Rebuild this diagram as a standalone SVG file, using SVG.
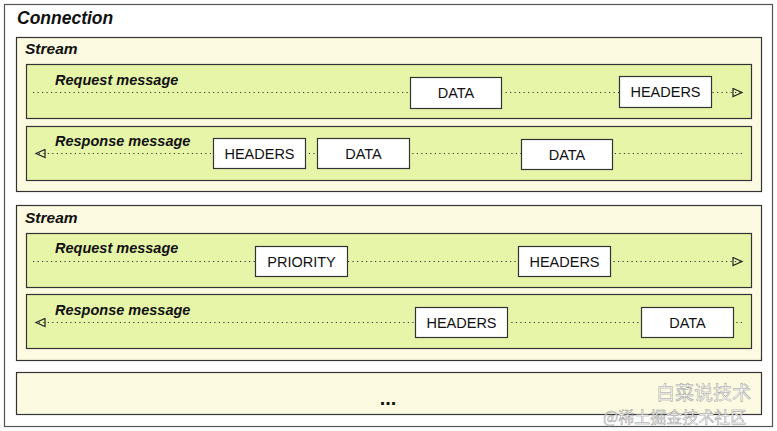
<svg xmlns="http://www.w3.org/2000/svg" width="777" height="431" viewBox="0 0 777 431">
<style>
.conn{fill:#ffffff;stroke:#555;stroke-width:1.2}
.stream{fill:#fcfae0;stroke:#333;stroke-width:1.2}
.msg{fill:#e6f5a8;stroke:#333;stroke-width:1.2}
.frame{fill:#ffffff;stroke:#333;stroke-width:1.2}
.t1{font-family:"Liberation Sans",Arial,sans-serif;font-weight:bold;font-style:italic;font-size:17.5px;fill:#111}
.t2{font-family:"Liberation Sans",Arial,sans-serif;font-weight:bold;font-style:italic;font-size:15.5px;fill:#111}
.t3{font-family:"Liberation Sans",Arial,sans-serif;font-weight:bold;font-style:italic;font-size:14.5px;fill:#111}
.fl{font-family:"Liberation Sans",Arial,sans-serif;font-size:14.5px;fill:#111;text-anchor:middle}
.dot{stroke:#333;stroke-width:1.2;stroke-dasharray:1.2 3.3;fill:none}
.wm{font-family:"Noto Sans CJK SC",sans-serif;fill:#ffffff;stroke:#9a9a9a;stroke-width:0.5}
</style>
<defs>
<marker id="ah" markerWidth="12" markerHeight="10" refX="10" refY="5" orient="auto" markerUnits="userSpaceOnUse">
<path d="M1,1 L10,5 L1,9 Z" fill="none" stroke="#222" stroke-width="1.2"/>
</marker>
</defs>
<g id="connection">
<rect class="conn" x="4.5" y="4.5" width="768" height="422"/>
<text class="t1" x="17" y="24">Connection</text>
</g>
<g id="stream1">
<rect class="stream" x="16.5" y="37.5" width="745" height="154"/>
<text class="t2" x="25" y="54">Stream</text>
</g>
<g id="req1">
<rect class="msg" x="26.5" y="64.5" width="725" height="54"/>
<text class="t3" x="55" y="85">Request message</text>
</g>
<g id="resp1">
<rect class="msg" x="26.5" y="126.5" width="725" height="54"/>
<text class="t3" x="55" y="146">Response message</text>
</g>
<g id="stream2">
<rect class="stream" x="16.5" y="205.5" width="745" height="155"/>
<text class="t2" x="25" y="223">Stream</text>
</g>
<g id="req2">
<rect class="msg" x="26.5" y="233.5" width="725" height="54"/>
<text class="t3" x="55" y="253">Request message</text>
</g>
<g id="resp2">
<rect class="msg" x="26.5" y="294.5" width="725" height="54"/>
<text class="t3" x="55" y="315">Response message</text>
</g>
<g id="connectors">
<line class="dot" x1="33" y1="92.5" x2="742" y2="92.5" marker-end="url(#ah)"/>
<line class="dot" x1="742" y1="153.5" x2="36" y2="153.5" marker-end="url(#ah)"/>
<line class="dot" x1="33" y1="261.5" x2="742" y2="261.5" marker-end="url(#ah)"/>
<line class="dot" x1="742" y1="322.5" x2="36" y2="322.5" marker-end="url(#ah)"/>
</g>
<g id="r1-data">
<rect class="frame" x="410.5" y="77.5" width="91" height="31"/>
<text class="fl" x="456" y="98">DATA</text>
</g>
<g id="r1-headers">
<rect class="frame" x="619.5" y="76.5" width="92" height="31"/>
<text class="fl" x="665.5" y="97">HEADERS</text>
</g>
<g id="p1-headers">
<rect class="frame" x="213.5" y="138.5" width="92" height="30"/>
<text class="fl" x="259.5" y="158.5">HEADERS</text>
</g>
<g id="p1-data1">
<rect class="frame" x="317.5" y="138.5" width="92" height="30"/>
<text class="fl" x="363.5" y="158.5">DATA</text>
</g>
<g id="p1-data2">
<rect class="frame" x="521.5" y="139.5" width="91" height="30"/>
<text class="fl" x="567" y="159.5">DATA</text>
</g>
<g id="r2-priority">
<rect class="frame" x="255.5" y="246.5" width="92" height="30"/>
<text class="fl" x="301.5" y="266.5">PRIORITY</text>
</g>
<g id="r2-headers">
<rect class="frame" x="518.5" y="246.5" width="92" height="30"/>
<text class="fl" x="564.5" y="266.5">HEADERS</text>
</g>
<g id="p2-headers">
<rect class="frame" x="415.5" y="307.5" width="92" height="30"/>
<text class="fl" x="461.5" y="327.5">HEADERS</text>
</g>
<g id="p2-data">
<rect class="frame" x="641.5" y="307.5" width="92" height="30"/>
<text class="fl" x="687.5" y="327.5">DATA</text>
</g>
<g id="more">
<rect class="stream" x="16.5" y="372.5" width="745" height="42"/>
<text x="388" y="405" font-family="Liberation Sans, Arial, sans-serif" font-weight="bold" font-size="20" text-anchor="middle" fill="#111">...</text>
</g>
<g id="watermark">
<text class="wm" x="656" y="400" font-size="19">白菜说技术</text>
<text class="wm" x="603" y="422.5" font-size="16">@稀土掘金技术社区</text>
</g>
</svg>
